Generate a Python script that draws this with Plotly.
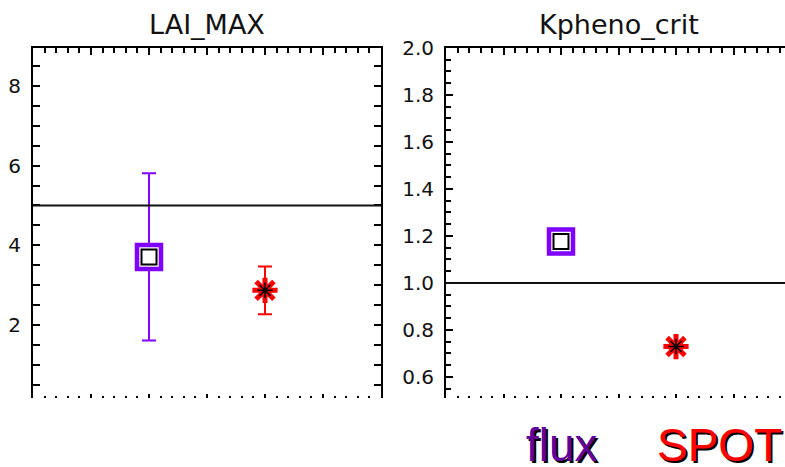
import plotly.graph_objects as go

# ---- data ----
categories = ["flux", "SPOT"]
x_index = [2, 4]
panel_titles = ["LAI_MAX", "Kpheno_crit"]
lai_max_values = [3.71, 2.87]
lai_max_errors = [2.10, 0.60]
kpheno_values = [1.176, 0.729]
kpheno_errors = [0.012, 0.010]
reference_lines = [5.0, 1.0]

# ---- styles ----
PURPLE = "#7F00FF"
RED = "#FF0000"
W, H = 785, 467
text_colors = ["#62009A", "#FF0000"]

fig = go.Figure()

panels = [
    ("x", "y", lai_max_values, lai_max_errors),
    ("x2", "y2", kpheno_values, kpheno_errors),
]

for xa, ya, vals, errs in panels:
    # flux: purple square with white fill + inner black square
    fig.add_trace(go.Scatter(
        x=[x_index[0]], y=[vals[0]], xaxis=xa, yaxis=ya, mode="markers",
        marker=dict(symbol="square", size=24, color="white",
                    line=dict(color=PURPLE, width=4.5)),
        error_y=dict(type="data", array=[errs[0]], color=PURPLE, thickness=2, width=7),
        showlegend=False, hoverinfo="skip"))
    fig.add_trace(go.Scatter(
        x=[x_index[0]], y=[vals[0]], xaxis=xa, yaxis=ya, mode="markers",
        marker=dict(symbol="square-open", size=15, color="black",
                    line=dict(color="black", width=2)),
        showlegend=False, hoverinfo="skip"))
    # SPOT: red asterisk + inner black asterisk
    fig.add_trace(go.Scatter(
        x=[x_index[1]], y=[vals[1]], xaxis=xa, yaxis=ya, mode="markers",
        marker=dict(symbol="asterisk-open", size=21, color=RED,
                    line=dict(color=RED, width=5)),
        error_y=dict(type="data", array=[errs[1]], color=RED, thickness=2, width=7),
        showlegend=False, hoverinfo="skip"))
    fig.add_trace(go.Scatter(
        x=[x_index[1]], y=[vals[1]], xaxis=xa, yaxis=ya, mode="markers",
        marker=dict(symbol="asterisk-open", size=13, color="black",
                    line=dict(color="black", width=1.5)),
        showlegend=False, hoverinfo="skip"))

# dummy traces so the top (overlaying) axes are drawn
fig.add_trace(go.Scatter(x=x_index, y=lai_max_values, xaxis="x3", yaxis="y",
                         mode="markers", marker=dict(opacity=0), showlegend=False,
                         hoverinfo="skip"))
fig.add_trace(go.Scatter(x=x_index, y=kpheno_values, xaxis="x4", yaxis="y2",
                         mode="markers", marker=dict(opacity=0), showlegend=False,
                         hoverinfo="skip"))

tick_font = dict(family="DejaVu Sans", size=20, color="#111")
y_top = 1 - 48 / H
y_bot = 1 - 398 / H

left_dom = [33 / W, 381 / W]
right_dom = [446 / W, 1.0]
right_range = [0, (W - 446) / 57.5]

def xbottom(domain, rng, anchor):
    return dict(domain=domain, range=rng, anchor=anchor, showline=False,
                automargin=False,
                showgrid=False, zeroline=False, showticklabels=False,
                tickmode="linear", tick0=0, dtick=1, ticks="inside", ticklen=4,
                tickwidth=2, tickcolor="black",
                minor=dict(dtick=0.2, ticks="inside", ticklen=2, tickwidth=2,
                           tickcolor="black", showgrid=False))

def xtop(base, rng, anchor):
    return dict(overlaying=base, side="top", range=rng, anchor=anchor,
                automargin=False,
                showline=True, linewidth=2, linecolor="black",
                showgrid=False, zeroline=False, showticklabels=False,
                tickmode="linear", tick0=0, dtick=1, ticks="inside", ticklen=7,
                tickwidth=2, tickcolor="black",
                minor=dict(dtick=0.2, ticks="inside", ticklen=5, tickwidth=2,
                           tickcolor="black", showgrid=False))

def yax(rng, anchor, dtick, mdtick, fmt, mirror):
    return dict(domain=[y_bot, y_top], range=rng, anchor=anchor,
                automargin=False,
                showline=True, linewidth=2, linecolor="black", mirror=mirror,
                showgrid=False, zeroline=False, tickmode="linear", tick0=0,
                dtick=dtick, tickformat=fmt, ticks="inside", ticklen=7,
                tickwidth=2, tickcolor="black", tickfont=tick_font,
                ticklabelstandoff=6,
                minor=dict(dtick=mdtick, ticks="inside", ticklen=5, tickwidth=2,
                           tickcolor="black", showgrid=False))

fig.update_layout(
    width=W, height=H, margin=dict(l=0, r=0, t=0, b=0, autoexpand=False),
    paper_bgcolor="white", plot_bgcolor="white", showlegend=False,
    xaxis=xbottom(left_dom, [0, 6], "y"),
    xaxis2=xbottom(right_dom, right_range, "y2"),
    xaxis3=xtop("x", [0, 6], "y"),
    xaxis4=xtop("x2", right_range, "y2"),
    yaxis=yax([0.17, 8.95], "x", 2, 0.5, "d", "allticks"),
    yaxis2=yax([0.51, 2.0], "x2", 0.2, 0.05, ".1f", False),
)

# horizontal reference lines
for (xa, ya), val in zip([("x", "y"), ("x2", "y2")], reference_lines):
    fig.add_shape(type="line", xref=f"{xa} domain", yref=ya, x0=0, x1=1,
                  y0=val, y1=val, line=dict(color="#111", width=2))

# panel titles
title_centers = [(33 + 381) / 2 / W, (446 + 791) / 2 / W]
for t, cx in zip(panel_titles, title_centers):
    fig.add_annotation(text=t, x=cx, y=1 - 25 / H, xref="paper", yref="paper",
                       showarrow=False, xanchor="center", yanchor="middle",
                       font=dict(family="DejaVu Sans", size=27, color="#111"))

# category labels with drop shadow
label_centers = [562 / W, 719 / W]
for name, cx, col in zip(categories, label_centers, text_colors):
    for dx, dy, c in [(2, -2, "black"), (0, 0, col)]:
        fig.add_annotation(text=name, x=cx, y=1 - 445 / H, xref="paper", yref="paper",
                           xshift=dx, yshift=dy, showarrow=False,
                           xanchor="center", yanchor="middle",
                           font=dict(family="Liberation Sans", size=46, color=c))

fig.write_html("out.html")
